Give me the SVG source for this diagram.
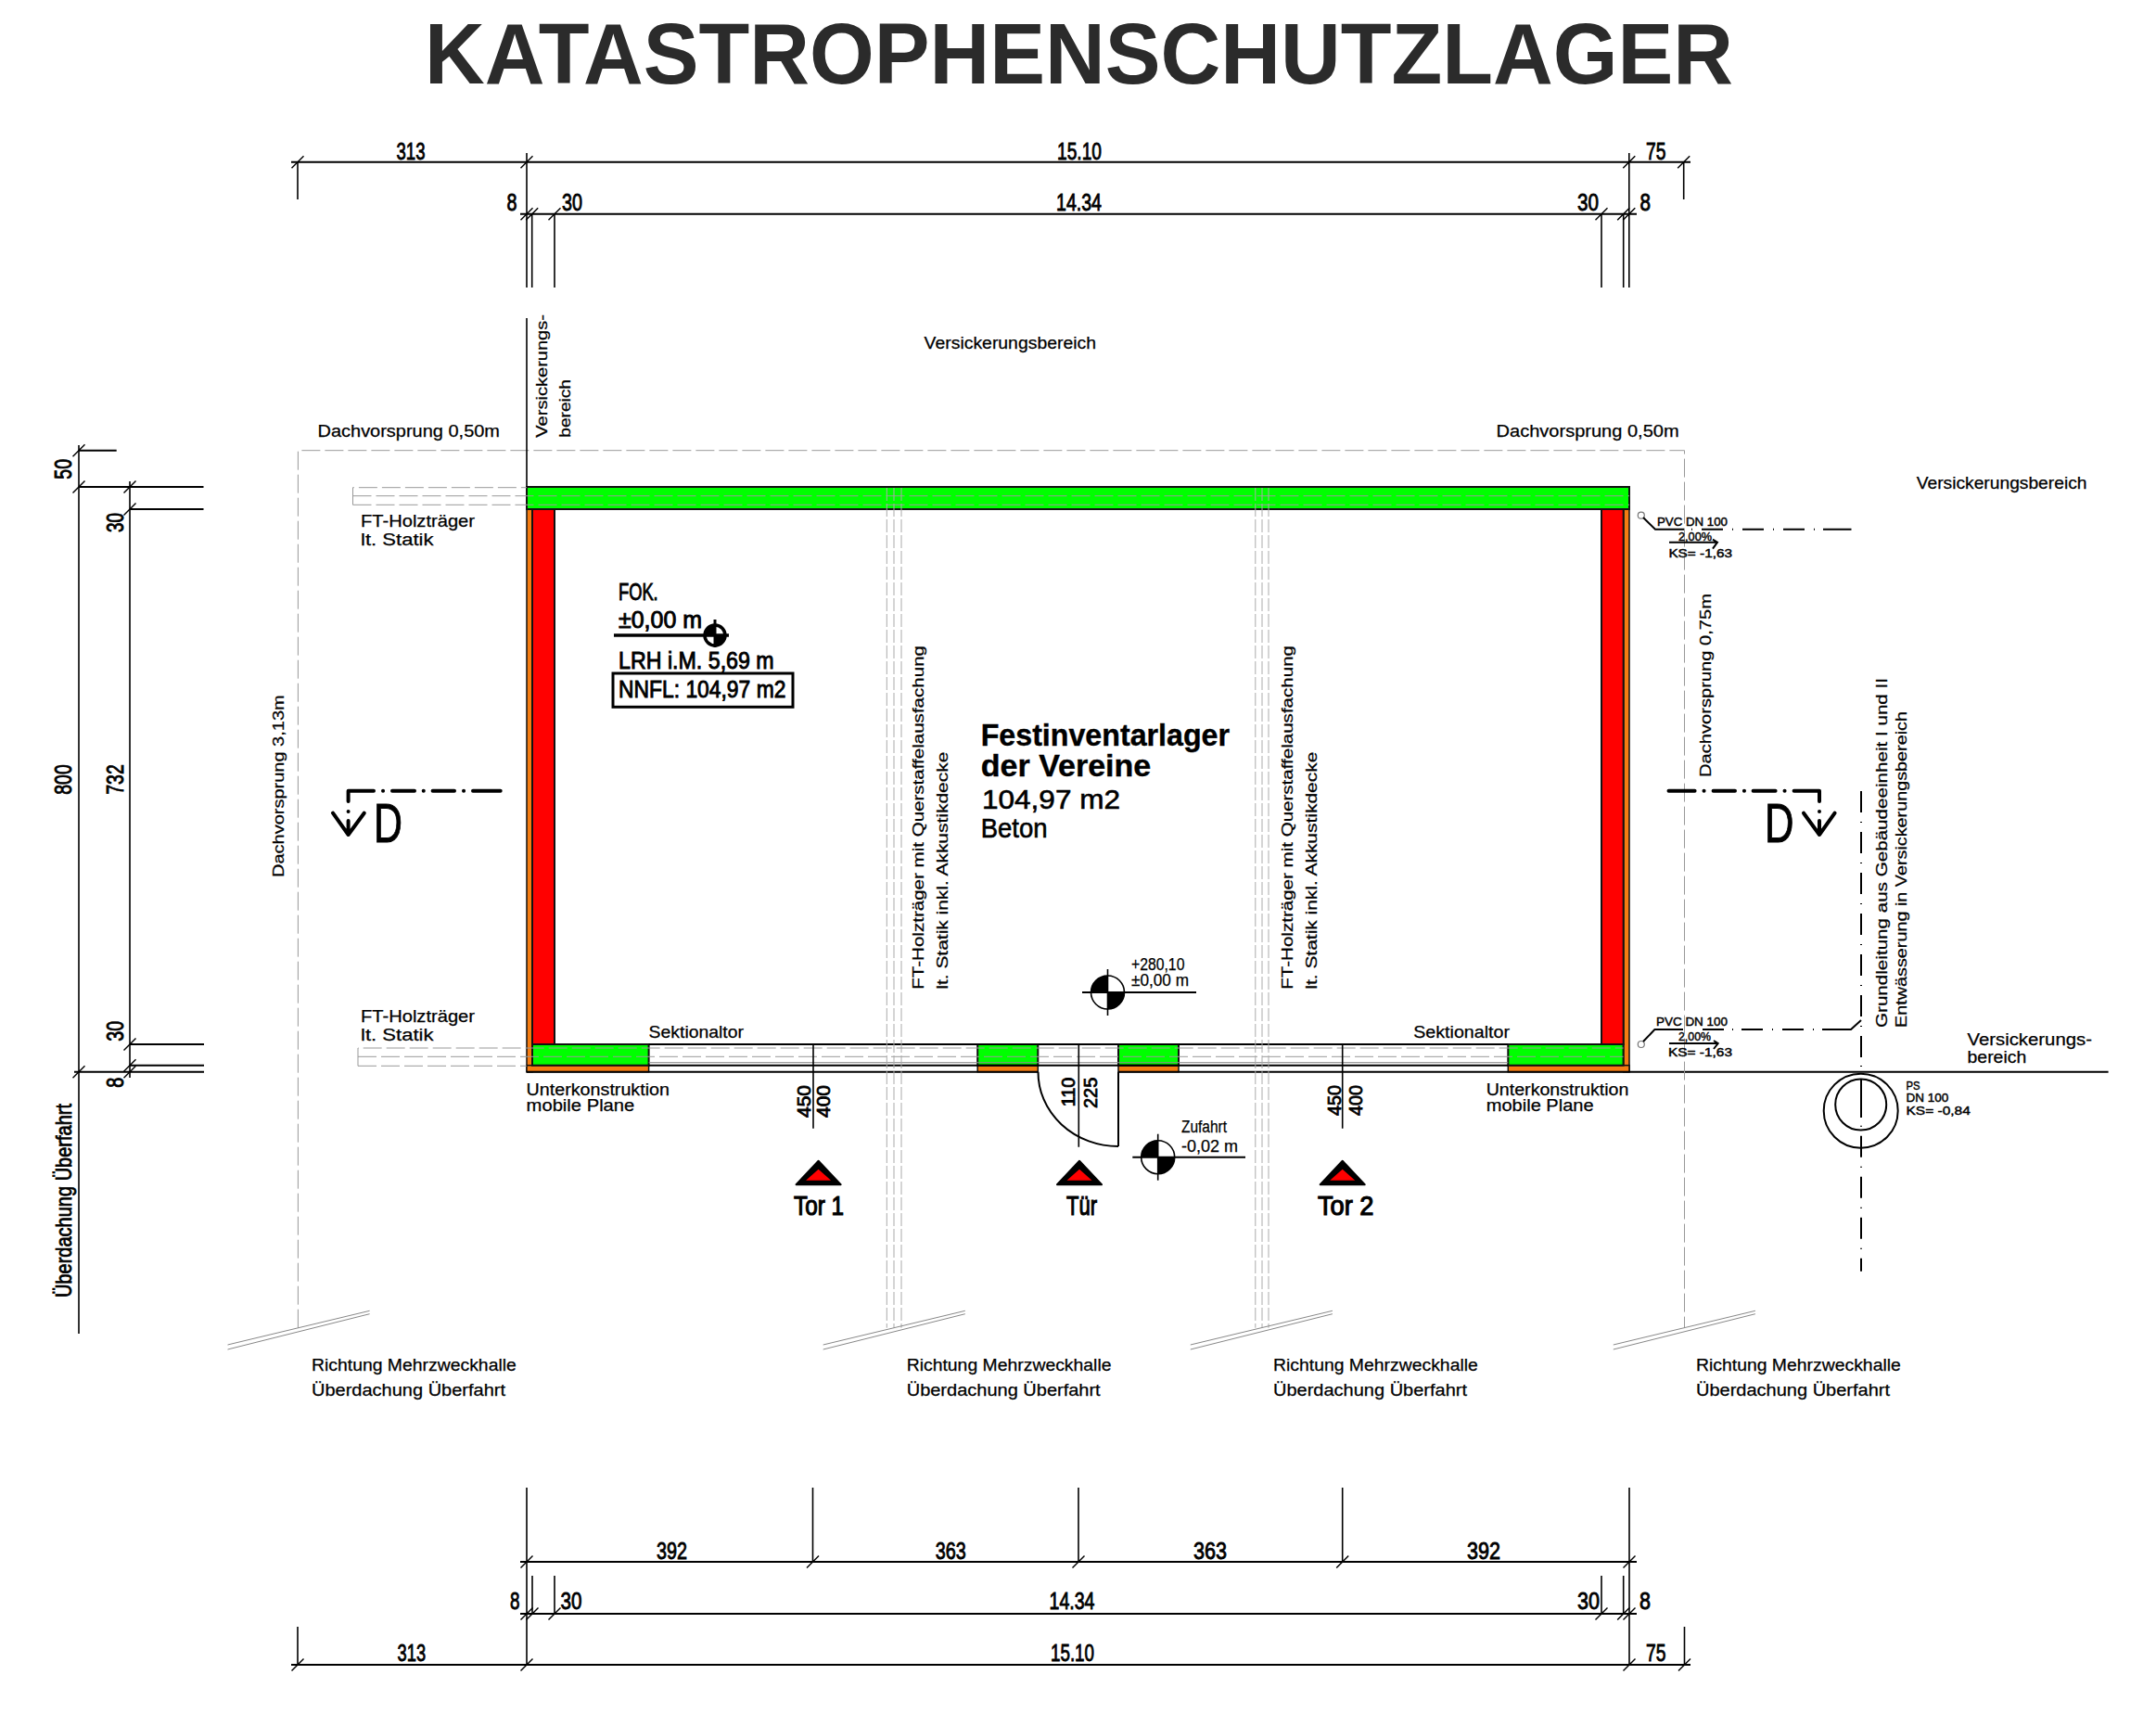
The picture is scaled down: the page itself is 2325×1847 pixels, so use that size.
<svg xmlns="http://www.w3.org/2000/svg" width="2325" height="1847" viewBox="0 0 2325 1847">
<style>
text{font-family:"Liberation Sans",Arial,sans-serif;fill:#000}
.title{font-size:93px;font-weight:700;fill:#2b2b2b}
.d{font-size:26px;stroke:#000;stroke-width:.9}
.s{font-size:18px;stroke:#000;stroke-width:.25}
.r{font-size:17px;stroke:#000;stroke-width:.25}
.x{font-size:13px;stroke:#000;stroke-width:.45}
.n{font-size:20px;stroke:#000;stroke-width:.8}
.l{font-size:30px;stroke:#000;stroke-width:1.2}
.m{font-size:25px;stroke:#000;stroke-width:.9}
.bb{font-size:33px;font-weight:700;stroke:#000;stroke-width:.4}
.big{font-size:29px;stroke:#000;stroke-width:.6}
.u{font-size:24px;stroke:#000;stroke-width:.8}
.k{fill:none;stroke:#000;stroke-width:2}
.e{fill:none;stroke:#000;stroke-width:1.6}
.t{fill:none;stroke:#000;stroke-width:1.5}
.g{fill:none;stroke:#999;stroke-width:1;stroke-dasharray:20 5}
.g3{fill:none;stroke:#aaa;stroke-width:1;stroke-dasharray:14 3}
.gs{fill:none;stroke:#888;stroke-width:1}
.dd{fill:none;stroke:#000;stroke-width:2;stroke-dasharray:23 10 1 10}
.sec{fill:none;stroke:#000;stroke-width:4;stroke-linecap:round;stroke-linejoin:round}
.gr{fill:#00ff00;stroke:#111;stroke-width:2}
.re{fill:#ff0000;stroke:#111;stroke-width:2}
.or{fill:#f57c12;stroke:#111;stroke-width:1.5}
</style>
<defs>
<path id="tick" class="t" d="M-6.500 6.500L6.500 -6.500"/>
<g id="lvl">
<path d="M0 0H-18A18 18 0 0 1 0 -18Z"/>
<path d="M0 0H18A18 18 0 0 1 0 18Z"/>
<circle r="18" class="e"/>
<path class="e" d="M0 -25V25"/>
</g>
<g id="tri">
<path d="M0 0L24 25.500H-24Z" stroke="#000" stroke-width="2" stroke-linejoin="round"/>
<path d="M0 9L13.500 21H-13.500Z" fill="#ff0000"/>
</g>
<g id="brk">
<path class="gs" d="M245.500 1450L398.600 1413.300M245.500 1455L398.600 1416.700"/>
</g>
<circle id="drain" cx="1769.800" cy="0" r="3.500" fill="none" stroke="#777" stroke-width="1.200"/>
</defs>

<text class="title" x="458" y="90" textLength="1411" lengthAdjust="spacingAndGlyphs">KATASTROPHENSCHUTZLAGER</text>

<g id="building">
<rect class="or" x="568" y="549" width="6" height="606.700"/>
<rect class="or" x="1750.700" y="549" width="6.300" height="606.700"/>
<rect class="re" x="574" y="549" width="24" height="577"/>
<rect class="re" x="1727" y="549" width="23.700" height="577"/>
<rect class="gr" x="568" y="525" width="1189" height="24"/>
<rect class="or" x="568" y="1148.700" width="131.600" height="7"/>
<rect class="or" x="1054.200" y="1148.700" width="65.100" height="7"/>
<rect class="or" x="1206" y="1148.700" width="65" height="7"/>
<rect class="or" x="1626.300" y="1148.700" width="130.700" height="7"/>
<rect class="gr" x="574" y="1126" width="125.600" height="22.700"/>
<rect class="gr" x="1054.200" y="1126" width="65.100" height="22.700"/>
<rect class="gr" x="1206" y="1126" width="65" height="22.700"/>
<rect class="gr" x="1626.300" y="1126" width="124.300" height="22.700"/>
<path class="k" d="M699.600 1126H1626.300M699.600 1148.700H1626.300M568 1155.700H1119.300M1206 1155.700H2273.600"/>
<path class="gs" d="M699.600 1145.700H1626.300"/>
<path class="k" d="M1206 1155.700V1236M1119.500 1155.700A86.500 80 0 0 0 1206 1236"/>
</g>

<g id="grey-lines">
<path class="g" d="M321.400 1431.700V485.700H1816.500V1431.700"/>
<path class="g" d="M380.500 544.300V525.700H568M380.500 534.700H1757M380.500 544.300H1757"/>
<path class="g" d="M386 1149.300V1130H1750.600M386 1139.300H1750.600M386 1149.300H568"/>
<path class="g3" d="M956.300 526V1431.700M964 526V1431.700M972 526V1431.700M1353.800 526V1431.700M1361 526V1431.700M1368 526V1431.700"/>
</g>

<g id="dimensions">
<path class="k" d="M314 174.700H1823M561 230.700H1765"/>
<path class="e" d="M321 174.700V215M568 165V310M573.700 230.700V310M598 230.700V310M1727 230.700V310M1750.700 230.700V310M1756.800 165V310M1815.700 174.700V215M568 343V525"/>
<use href="#tick" x="321" y="174.700"/><use href="#tick" x="568" y="174.700"/><use href="#tick" x="1756.800" y="174.700"/><use href="#tick" x="1815.700" y="174.700"/>
<use href="#tick" x="568" y="230.700"/><use href="#tick" x="573.700" y="230.700"/><use href="#tick" x="598" y="230.700"/><use href="#tick" x="1727" y="230.700"/><use href="#tick" x="1750.700" y="230.700"/><use href="#tick" x="1756.800" y="230.700"/>

<path class="k" d="M561 1684H1765M561 1740H1765M314 1795H1823"/>
<path class="e" d="M568 1604V1795M876.500 1604V1684M1163 1604V1684M1447.700 1604V1684M1757 1604V1795M574 1699V1740M598 1699V1740M1727 1699V1740M1750.700 1699V1740M321 1754V1795M1816.500 1754V1795"/>
<use href="#tick" x="568" y="1684"/><use href="#tick" x="876.500" y="1684"/><use href="#tick" x="1163" y="1684"/><use href="#tick" x="1447.700" y="1684"/><use href="#tick" x="1757" y="1684"/>
<use href="#tick" x="568" y="1740"/><use href="#tick" x="574" y="1740"/><use href="#tick" x="598" y="1740"/><use href="#tick" x="1727" y="1740"/><use href="#tick" x="1750.700" y="1740"/><use href="#tick" x="1757" y="1740"/>
<use href="#tick" x="321" y="1795"/><use href="#tick" x="568" y="1795"/><use href="#tick" x="1757" y="1795"/><use href="#tick" x="1816.500" y="1795"/>

<path class="k" d="M85 485.700H125.700M85 525H219.500M140 549H219.500M140 1126H220M140 1148.700H220M80 1155.700H220"/>
<path class="e" d="M85 480V1438M140 519V1162"/>
<use href="#tick" x="85" y="485.700"/><use href="#tick" x="85" y="525"/><use href="#tick" x="140" y="525"/><use href="#tick" x="140" y="549"/><use href="#tick" x="140" y="1126"/><use href="#tick" x="140" y="1148.700"/><use href="#tick" x="140" y="1155.700"/><use href="#tick" x="85" y="1155.700"/>
<path class="e" d="M877 1126V1216.700M1447.700 1126V1216.700M1163.300 1126V1236.700"/>

<text class="d" x="427.500" y="171.700" textLength="31" lengthAdjust="spacingAndGlyphs">313</text>
<text class="d" x="1140" y="171.700" textLength="48" lengthAdjust="spacingAndGlyphs">15.10</text>
<text class="d" x="1775" y="171.700" textLength="21.500" lengthAdjust="spacingAndGlyphs">75</text>
<text class="d" x="546.500" y="226.700" textLength="11" lengthAdjust="spacingAndGlyphs">8</text>
<text class="d" x="606" y="226.700" textLength="22" lengthAdjust="spacingAndGlyphs">30</text>
<text class="d" x="1139" y="226.700" textLength="49" lengthAdjust="spacingAndGlyphs">14.34</text>
<text class="d" x="1701" y="226.700" textLength="23" lengthAdjust="spacingAndGlyphs">30</text>
<text class="d" x="1768.400" y="226.700" textLength="11.500" lengthAdjust="spacingAndGlyphs">8</text>
<text class="d" x="708" y="1680.700" textLength="33" lengthAdjust="spacingAndGlyphs">392</text>
<text class="d" x="1008.700" y="1680.700" textLength="33" lengthAdjust="spacingAndGlyphs">363</text>
<text class="d" x="1287" y="1680.700" textLength="36" lengthAdjust="spacingAndGlyphs">363</text>
<text class="d" x="1582" y="1680.700" textLength="36" lengthAdjust="spacingAndGlyphs">392</text>
<text class="d" x="550" y="1735" textLength="10.500" lengthAdjust="spacingAndGlyphs">8</text>
<text class="d" x="604.600" y="1735" textLength="23" lengthAdjust="spacingAndGlyphs">30</text>
<text class="d" x="1131.500" y="1735" textLength="49" lengthAdjust="spacingAndGlyphs">14.34</text>
<text class="d" x="1701" y="1735" textLength="24" lengthAdjust="spacingAndGlyphs">30</text>
<text class="d" x="1768" y="1735" textLength="12" lengthAdjust="spacingAndGlyphs">8</text>
<text class="d" x="428.600" y="1790.700" textLength="30.500" lengthAdjust="spacingAndGlyphs">313</text>
<text class="d" x="1133" y="1790.700" textLength="47" lengthAdjust="spacingAndGlyphs">15.10</text>
<text class="d" x="1775" y="1790.700" textLength="21.500" lengthAdjust="spacingAndGlyphs">75</text>

<text class="d" transform="translate(77 516.700) rotate(-90)" textLength="21.700" lengthAdjust="spacingAndGlyphs">50</text>
<text class="d" transform="translate(77 856.700) rotate(-90)" textLength="32.400" lengthAdjust="spacingAndGlyphs">800</text>
<text class="d" transform="translate(133 574) rotate(-90)" textLength="21" lengthAdjust="spacingAndGlyphs">30</text>
<text class="d" transform="translate(133 856.700) rotate(-90)" textLength="32.400" lengthAdjust="spacingAndGlyphs">732</text>
<text class="d" transform="translate(133 1122.700) rotate(-90)" textLength="22" lengthAdjust="spacingAndGlyphs">30</text>
<text class="d" transform="translate(133 1172.700) rotate(-90)" textLength="11" lengthAdjust="spacingAndGlyphs">8</text>
<text class="n" transform="translate(873.700 1205) rotate(-90)" textLength="35" lengthAdjust="spacingAndGlyphs">450</text>
<text class="n" transform="translate(895 1205) rotate(-90)" textLength="35" lengthAdjust="spacingAndGlyphs">400</text>
<text class="n" transform="translate(1159.400 1193.300) rotate(-90)" textLength="31.600" lengthAdjust="spacingAndGlyphs">110</text>
<text class="n" transform="translate(1183 1195) rotate(-90)" textLength="33.300" lengthAdjust="spacingAndGlyphs">225</text>
<text class="n" transform="translate(1446 1203) rotate(-90)" textLength="33" lengthAdjust="spacingAndGlyphs">450</text>
<text class="n" transform="translate(1468.800 1203) rotate(-90)" textLength="33" lengthAdjust="spacingAndGlyphs">400</text>
</g>

<g id="labels">
<text class="s" x="342.500" y="470.700" textLength="196.500" lengthAdjust="spacingAndGlyphs">Dachvorsprung 0,50m</text>
<text class="s" x="1613.600" y="470.700" textLength="197" lengthAdjust="spacingAndGlyphs">Dachvorsprung 0,50m</text>
<text class="r" transform="translate(590 471.700) rotate(-90)" textLength="132.700" lengthAdjust="spacingAndGlyphs">Versickerungs-</text>
<text class="r" transform="translate(615 471.700) rotate(-90)" textLength="62.700" lengthAdjust="spacingAndGlyphs">bereich</text>
<text class="s" x="996.600" y="376" textLength="185.400" lengthAdjust="spacingAndGlyphs">Versickerungsbereich</text>
<text class="s" x="2066.700" y="527.300" textLength="183.800" lengthAdjust="spacingAndGlyphs">Versickerungsbereich</text>
<text class="s" x="389" y="568" textLength="123" lengthAdjust="spacingAndGlyphs">FT-Holzträger</text>
<text class="s" x="389" y="588" textLength="78.500" lengthAdjust="spacingAndGlyphs">lt. Statik</text>
<text class="s" x="389" y="1101.700" textLength="123" lengthAdjust="spacingAndGlyphs">FT-Holzträger</text>
<text class="s" x="389" y="1121.700" textLength="78.500" lengthAdjust="spacingAndGlyphs">lt. Statik</text>
<text class="s" x="699.600" y="1119" textLength="102.400" lengthAdjust="spacingAndGlyphs">Sektionaltor</text>
<text class="s" x="1524.200" y="1119" textLength="103.800" lengthAdjust="spacingAndGlyphs">Sektionaltor</text>
<text class="s" x="567.600" y="1180.700" textLength="154.400" lengthAdjust="spacingAndGlyphs">Unterkonstruktion</text>
<text class="s" x="567.600" y="1198.300" textLength="116.700" lengthAdjust="spacingAndGlyphs">mobile Plane</text>
<text class="s" x="1602.700" y="1180.700" textLength="153.700" lengthAdjust="spacingAndGlyphs">Unterkonstruktion</text>
<text class="s" x="1602.700" y="1198.300" textLength="116" lengthAdjust="spacingAndGlyphs">mobile Plane</text>
<text class="r" transform="translate(306.400 946) rotate(-90)" textLength="196.700" lengthAdjust="spacingAndGlyphs">Dachvorsprung 3,13m</text>
<text class="r" transform="translate(1845 838) rotate(-90)" textLength="198" lengthAdjust="spacingAndGlyphs">Dachvorsprung 0,75m</text>
<text class="u" transform="translate(76.500 1399) rotate(-90)" textLength="209" lengthAdjust="spacingAndGlyphs">Überdachung Überfahrt</text>
<text class="r" transform="translate(996.400 1066.700) rotate(-90)" textLength="370.700" lengthAdjust="spacingAndGlyphs">FT-Holzträger mit Querstaffelausfachung</text>
<text class="r" transform="translate(1022.400 1066.700) rotate(-90)" textLength="256" lengthAdjust="spacingAndGlyphs">lt. Statik inkl. Akkustikdecke</text>
<text class="r" transform="translate(1394 1066.700) rotate(-90)" textLength="370.700" lengthAdjust="spacingAndGlyphs">FT-Holzträger mit Querstaffelausfachung</text>
<text class="r" transform="translate(1420 1066.700) rotate(-90)" textLength="256" lengthAdjust="spacingAndGlyphs">lt. Statik inkl. Akkustikdecke</text>
<text class="r" transform="translate(2035 1108) rotate(-90)" textLength="377" lengthAdjust="spacingAndGlyphs">Grundleitung aus Gebäudeeinheit I und II</text>
<text class="r" transform="translate(2055.500 1108) rotate(-90)" textLength="341" lengthAdjust="spacingAndGlyphs">Entwässerung in Versickerungsbereich</text>
<text class="s" x="2121.500" y="1127.300" textLength="134.500" lengthAdjust="spacingAndGlyphs">Versickerungs-</text>
<text class="s" x="2121.500" y="1145.700" textLength="63.800" lengthAdjust="spacingAndGlyphs">bereich</text>
<text class="s" x="336" y="1478.300" textLength="220.800" lengthAdjust="spacingAndGlyphs">Richtung Mehrzweckhalle</text>
<text class="s" x="336" y="1505" textLength="209" lengthAdjust="spacingAndGlyphs">Überdachung Überfahrt</text>
<text class="s" x="977.700" y="1478.300" textLength="220.800" lengthAdjust="spacingAndGlyphs">Richtung Mehrzweckhalle</text>
<text class="s" x="977.700" y="1505" textLength="209" lengthAdjust="spacingAndGlyphs">Überdachung Überfahrt</text>
<text class="s" x="1373" y="1478.300" textLength="220.800" lengthAdjust="spacingAndGlyphs">Richtung Mehrzweckhalle</text>
<text class="s" x="1373" y="1505" textLength="209" lengthAdjust="spacingAndGlyphs">Überdachung Überfahrt</text>
<text class="s" x="1829" y="1478.300" textLength="220.800" lengthAdjust="spacingAndGlyphs">Richtung Mehrzweckhalle</text>
<text class="s" x="1829" y="1505" textLength="209" lengthAdjust="spacingAndGlyphs">Überdachung Überfahrt</text>
</g>

<g id="room-labels">
<text class="m" x="667" y="646.700" textLength="42.700" lengthAdjust="spacingAndGlyphs">FOK.</text>
<text class="m" x="667" y="677.300" textLength="90" lengthAdjust="spacingAndGlyphs">±0,00 m</text>
<text class="m" x="667" y="721" textLength="167.700" lengthAdjust="spacingAndGlyphs">LRH i.M. 5,69 m</text>
<rect x="661" y="726" width="194" height="36.300" fill="none" stroke="#000" stroke-width="3"/>
<text class="m" x="667" y="751.700" textLength="180.400" lengthAdjust="spacingAndGlyphs">NNFL: 104,97 m2</text>
<path d="M662 685H786" stroke="#000" stroke-width="3.500"/>
<g transform="translate(771 685)">
<path d="M0 0H-11A11 11 0 0 1 0 -11Z"/>
<path d="M0 0H11A11 11 0 0 1 0 11Z"/>
<circle r="11" fill="none" stroke="#000" stroke-width="3.500"/>
<path d="M0 -17V13" stroke="#000" stroke-width="3"/>
</g>
<text class="bb" x="1057.700" y="804" textLength="268.300" lengthAdjust="spacingAndGlyphs">Festinventarlager</text>
<text class="bb" x="1057.700" y="836.700" textLength="183.600" lengthAdjust="spacingAndGlyphs">der Vereine</text>
<text class="big" x="1059" y="871.700" textLength="149" lengthAdjust="spacingAndGlyphs">104,97 m2</text>
<text class="big" x="1057.700" y="902.700" textLength="71.900" lengthAdjust="spacingAndGlyphs">Beton</text>
<use href="#lvl" x="1194.500" y="1070"/>
<path class="k" d="M1167 1070H1290"/>
<text class="s" x="1220" y="1045.700" textLength="57.400" lengthAdjust="spacingAndGlyphs">+280,10</text>
<text class="s" x="1220" y="1063.300" textLength="62" lengthAdjust="spacingAndGlyphs">±0,00 m</text>
<use href="#lvl" x="1248.700" y="1247.700"/>
<path class="k" d="M1221.300 1247.700H1343"/>
<text class="s" x="1274" y="1220.700" textLength="49" lengthAdjust="spacingAndGlyphs">Zufahrt</text>
<text class="s" x="1274" y="1241.700" textLength="61" lengthAdjust="spacingAndGlyphs">-0,02 m</text>
</g>

<g id="openings">
<use href="#tri" x="882.600" y="1251.700"/>
<use href="#tri" x="1164" y="1251.700"/>
<use href="#tri" x="1447.700" y="1251.700"/>
<text class="l" x="856" y="1310" textLength="54" lengthAdjust="spacingAndGlyphs">Tor 1</text>
<text class="l" x="1150" y="1310" textLength="33" lengthAdjust="spacingAndGlyphs">Tür</text>
<text class="l" x="1421" y="1310" textLength="60.500" lengthAdjust="spacingAndGlyphs">Tor 2</text>
</g>

<g id="section-marks">
<path class="sec" d="M375.600 864V852.700H403M413 852.700H413.100M423 852.700H447M456.700 852.700H456.800M466.600 852.700H490M500 852.700H500.100M510 852.700H539.700M375.600 875V875.100M375.600 885V900M359 876.700L375.600 900L392.700 876.700"/>
<text x="403" y="908" font-size="60" stroke="#000" stroke-width="1" textLength="31" lengthAdjust="spacingAndGlyphs">D</text>
<path class="sec" d="M1962 864V852.700H1934.600M1924.600 852.700H1924.500M1914.600 852.700H1890.600M1881 852.700H1880.900M1871 852.700H1847.600M1837.600 852.700H1837.500M1827.600 852.700H1799.500M1962 875V875.100M1962 885V900M1945 876.700L1962 900L1978.600 876.700"/>
<text x="1903" y="908" font-size="60" stroke="#000" stroke-width="1" textLength="31.500" lengthAdjust="spacingAndGlyphs">D</text>
</g>

<g id="drainage">
<use href="#drain" y="555.700"/>
<use href="#drain" y="1126"/>
<path class="k" d="M1800 584.700H1852M1847 581.700L1852 584.700L1847 591.700M1800 1125H1852.700M1848 1122L1852.700 1125L1848 1131"/>
<path class="k" d="M1772 558L1785 570.700H1816M1824 570.700H1825M1966 570.700H1996.500M1772 1123L1784.400 1110H1815M1836 1110H1859M1868 1110H1869M1965 1110H1996L2007 1100"/>
<path class="dd" d="M1878 1110H1965"/>
<path class="dd" d="M1835 570.700H1966"/>
<path class="dd" d="M2007 1370.700V1205" stroke-dashoffset="9"/>
<path class="k" d="M2007 1205V1163M2007 1149V1150"/>
<path class="dd" d="M2007 1140V848"/>
<circle class="k" cx="2006.700" cy="1197.700" r="40"/>
<circle class="k" cx="2006.700" cy="1191" r="27.500"/>
<text class="x" x="1787" y="567.300" textLength="76" lengthAdjust="spacingAndGlyphs">PVC DN 100</text>
<text class="x" x="1810" y="583" textLength="36" lengthAdjust="spacingAndGlyphs">2,00%</text>
<text class="x" x="1799.400" y="600.700" textLength="68.600" lengthAdjust="spacingAndGlyphs">KS= -1,63</text>
<text class="x" x="1786" y="1106" textLength="77" lengthAdjust="spacingAndGlyphs">PVC DN 100</text>
<text class="x" x="1810" y="1122" textLength="35" lengthAdjust="spacingAndGlyphs">2,00%</text>
<text class="x" x="1799" y="1139" textLength="69" lengthAdjust="spacingAndGlyphs">KS= -1,63</text>
<text class="x" x="2055.500" y="1175" textLength="15" lengthAdjust="spacingAndGlyphs">PS</text>
<text class="x" x="2055.500" y="1187.700" textLength="45.800" lengthAdjust="spacingAndGlyphs">DN 100</text>
<text class="x" x="2055.500" y="1201.700" textLength="69.300" lengthAdjust="spacingAndGlyphs">KS= -0,84</text>
</g>

<g id="break-lines">
<use href="#brk"/>
<use href="#brk" x="642.200"/>
<use href="#brk" x="1038.300"/>
<use href="#brk" x="1494.300"/>
</g>
</svg>
